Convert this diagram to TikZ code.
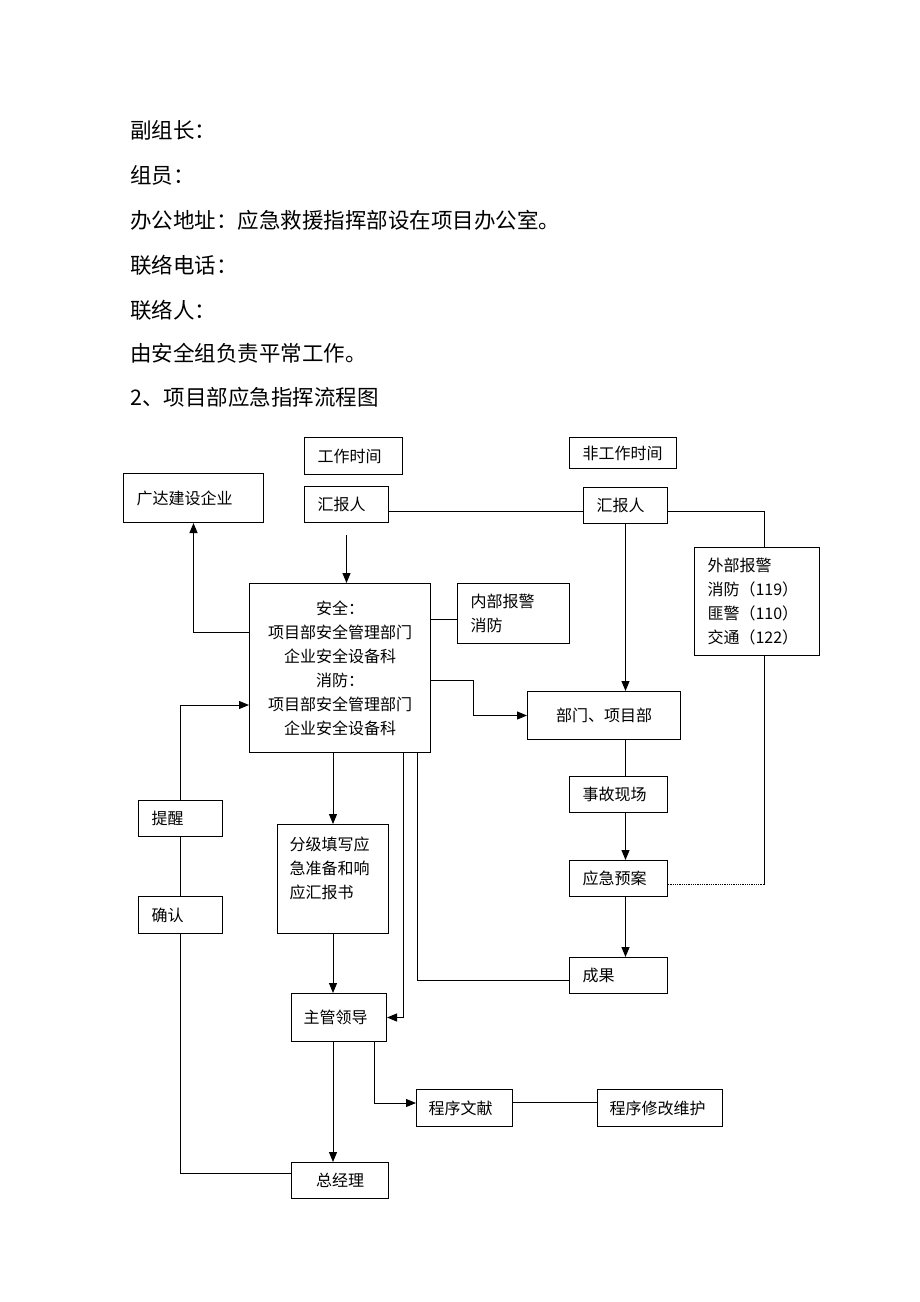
\documentclass[tikz,border=0pt]{standalone}
\usepackage{fontspec}
\newfontfamily\cjk{Noto Sans CJK SC}
\usetikzlibrary{arrows.meta}
\tikzset{
  box/.style={draw, line width=1pt, anchor=north west, inner xsep=13pt, inner ysep=0pt,
    align=left, font=\cjk\fontsize{16}{24}\selectfont},
  wh/.style 2 args={text width=#1, minimum height=#2},
  conn/.style={line width=1pt},
  arr/.style={line width=1pt, -{Triangle[length=10pt,width=8pt]}},
  txt/.style={anchor=west, inner sep=0pt, font=\cjk\fontsize{21.5}{21.5}\selectfont},
}
\begin{document}
\begin{tikzpicture}[x=1pt,y=-1pt]
\useasboundingbox (0,0) rectangle (920,1302);
\node[txt] (t1) at (130,130) {副组长：};
\node[txt] (t2) at (130,175) {组员：};
\node[txt] (t3) at (130,220) {办公地址：应急救援指挥部设在项目办公室。};
\node[txt] (t4) at (130,265) {联络电话：};
\node[txt] (t5) at (130,310) {联络人：};
\node[txt] (t6) at (130,353) {由安全组负责平常工作。};
\node[txt] (t7) at (130,397) {2、项目部应急指挥流程图};

\node[box, wh={72pt}{37pt}] (worktime) at (304,437) {工作时间};
\node[box, wh={81pt}{31pt}] (offtime) at (569,437) {非工作时间};
\node[box, wh={58pt}{36pt}] (rep1) at (304,486) {汇报人};
\node[box, wh={58pt}{36pt}] (rep2) at (583,487) {汇报人};
\node[box, wh={114pt}{49pt}] (gd) at (123,473) {广达建设企业};
\node[box, wh={155pt}{169pt}, align=center] (main) at (249,583)
  {安全：\\项目部安全管理部门\\企业安全设备科\\消防：\\项目部安全管理部门\\企业安全设备科};
\node[box, wh={86pt}{60pt}] (inner) at (457,583) {内部报警\\消防};
\node[box, wh={99pt}{108pt}] (outer) at (694,547) {外部报警\\消防（119）\\匪警（110）\\交通（122）};
\node[box, wh={127pt}{48pt}, align=center] (dept) at (527,691) {部门、项目部};
\node[box, wh={72pt}{36pt}] (site) at (569,776) {事故现场};
\node[box, wh={72pt}{36pt}] (plan) at (569,860) {应急预案};
\node[box, wh={72pt}{36pt}] (result) at (569,957) {成果};
\node[box, wh={58pt}{36pt}] (remind) at (138,800) {提醒};
\node[box, wh={58pt}{37pt}] (confirm) at (138,896) {确认};
\node[box, wh={87pt}{109pt}, inner xsep=12pt, text depth=70pt] (form) at (277,824)
  {分级填写应\\急准备和响\\应汇报书};
\node[box, wh={71pt}{48pt}, inner xsep=12pt] (lead) at (291,993) {主管领导};
\node[box, wh={72pt}{37pt}, inner xsep=12pt] (doc) at (416,1089) {程序文献};
\node[box, wh={101pt}{37pt}, inner xsep=12pt] (maint) at (597,1089) {程序修改维护};
\node[box, wh={71pt}{36pt}, align=center] (gm) at (291,1162) {总经理};

\path ([yshift=-7pt]rep1.east) coordinate (r1)
      ([yshift=-6pt]rep2.east) coordinate (r2)
      ([xshift=7pt]outer.south) coordinate (o1)
      ([xshift=7pt]outer.north) coordinate (o2)
      ([yshift=-6pt]inner.west) coordinate (i1)
      ([yshift=-12pt]main.east) coordinate (m1)
      ([yshift=36pt]main.west) coordinate (m2)
      ([yshift=-37pt]main.west) coordinate (m3)
      ([xshift=-14pt]main.south east) coordinate (m4)
      ([xshift=-28pt]main.south east) coordinate (m5)
      ([yshift=-6pt]plan.east) coordinate (p1)
      ([yshift=-5pt]result.west) coordinate (s1)
      ([xshift=-13pt]lead.south east) coordinate (l1)
      ([yshift=5pt]doc.west) coordinate (d1)
      ([yshift=6pt]doc.east) coordinate (d2)
      ([yshift=7pt]gm.west) coordinate (g1);

\draw[arr, shorten <=12pt] (rep1.south) -- (rep1.south |- main.north);
\draw[conn] (r1) -- (r1 -| rep2.west);
\draw[conn] (r2) -| (o2);
\draw[arr] (rep2.south) -- (rep2.south |- dept.north);
\draw[arr] (m2) -| (gd.south);
\draw[conn] (i1 -| main.east) -- (i1);
\draw[arr] (m1) -- ++(42,0) |- (dept.west);
\draw[conn] (o1) -- (o1 |- p1);
\draw[line width=0.8pt, densely dotted] (o1 |- p1) -- (p1);
\draw[conn] (rep2.south |- dept.south) -- (rep2.south |- site.north);
\draw[arr] (rep2.south |- site.south) -- (rep2.south |- plan.north);
\draw[arr] (rep2.south |- plan.south) -- (rep2.south |- result.north);
\draw[conn] (s1) -| (m4);
\draw[arr] (m5) |- (lead.east);
\draw[arr] (form.north |- main.south) -- (form.north);
\draw[arr] (form.south) -- (form.south |- lead.north);
\draw[arr] (form.south |- lead.south) -- (form.south |- gm.north);
\draw[arr] (l1) |- (d1);
\draw[conn] (d2) -- (d2 -| maint.west);
\draw[conn] (g1) -| (confirm.south);
\draw[conn] (confirm.north) -- (remind.south);
\draw[arr] (remind.north) |- (m3);
\end{tikzpicture}
\end{document}
